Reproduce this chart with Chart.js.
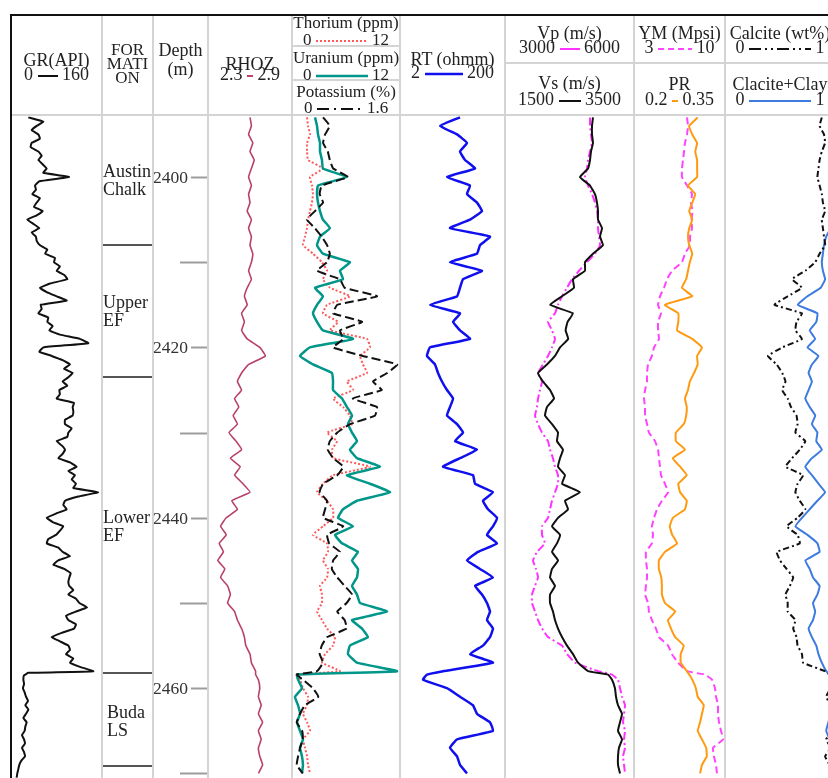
<!DOCTYPE html>
<html><head><meta charset="utf-8">
<script src="https://cdn.jsdelivr.net/npm/chart.js@4.4.1/dist/chart.umd.min.js"></script>
<style>
html,body{margin:0;padding:0;background:#fff;}
#wrap{position:relative;width:828px;height:778px;overflow:hidden;background:#fff;font-family:"Liberation Serif","Times New Roman",serif;color:#222;}
canvas.c{position:absolute;top:115px;}
.t{position:absolute;white-space:nowrap;text-align:center;font-size:18px;line-height:18px;}
.s{font-size:17px;line-height:17px;}
.vl{position:absolute;top:15px;height:763px;width:2px;background:#d4d4d4;}
.hl{position:absolute;height:2px;background:#d4d4d4;}
svg{vertical-align:middle;}
</style></head>
<body>
<div id="wrap">
<canvas class="c" id="cGR" width="91" height="663" style="left:11px"></canvas>
<canvas class="c" id="cFM" width="51" height="663" style="left:102px"></canvas>
<canvas class="c" id="cDP" width="55" height="663" style="left:153px"></canvas>
<canvas class="c" id="cRH" width="84" height="663" style="left:208px"></canvas>
<canvas class="c" id="cTU" width="108" height="663" style="left:292px"></canvas>
<canvas class="c" id="cRT" width="105" height="663" style="left:400px"></canvas>
<canvas class="c" id="cVV" width="129" height="663" style="left:505px"></canvas>
<canvas class="c" id="cYP" width="91" height="663" style="left:634px"></canvas>
<canvas class="c" id="cCA" width="110" height="663" style="left:725px"></canvas>

<!-- grid lines -->
<div class="vl" style="left:101px"></div>
<div class="vl" style="left:152px"></div>
<div class="vl" style="left:207px"></div>
<div class="vl" style="left:291px"></div>
<div class="vl" style="left:399px"></div>
<div class="vl" style="left:504px"></div>
<div class="vl" style="left:633px"></div>
<div class="vl" style="left:724px"></div>
<div class="hl" style="left:11px;width:817px;top:114px"></div>
<div class="hl" style="left:292px;width:108px;top:45px"></div>
<div class="hl" style="left:292px;width:108px;top:79px"></div>
<div class="hl" style="left:505px;width:323px;top:62px"></div>
<div style="position:absolute;left:10px;top:14px;width:818px;height:2px;background:#111"></div>
<div style="position:absolute;left:10px;top:14px;width:2px;height:764px;background:#111"></div>

<!-- header -->
<div class="t" style="left:11px;width:91px;top:51px">GR(API)</div>
<div class="t" style="left:11px;width:91px;top:65px">0 <svg width="20" height="4"><line x1="0" y1="2" x2="20" y2="2" stroke="#111" stroke-width="2"/></svg> 160</div>
<div class="t" style="left:102px;width:51px;top:43px;font-size:17px;line-height:14px">FOR<br>MATI<br>ON</div>
<div class="t" style="left:153px;width:55px;top:41px">Depth</div>
<div class="t" style="left:153px;width:55px;top:60px">(m)</div>
<div class="t" style="left:208px;width:84px;top:55px">RHOZ</div>
<div class="t" style="left:208px;width:84px;top:65px">2.3 <svg width="6" height="4"><line x1="0" y1="2" x2="6" y2="2" stroke="#c0406e" stroke-width="2"/></svg> 2.9</div>
<div class="t s" style="left:292px;width:108px;top:14px">Thorium (ppm)</div>
<div class="t s" style="left:292px;width:108px;top:31px">0 <svg width="52" height="4"><line x1="0" y1="2" x2="52" y2="2" stroke="#ff5a5a" stroke-width="2" stroke-dasharray="2,2"/></svg> 12</div>
<div class="t s" style="left:292px;width:108px;top:49px">Uranium (ppm)</div>
<div class="t s" style="left:292px;width:108px;top:66px">0 <svg width="52" height="4"><line x1="0" y1="2" x2="52" y2="2" stroke="#00968a" stroke-width="2.5"/></svg> 12</div>
<div class="t s" style="left:292px;width:108px;top:83px">Potassium (%)</div>
<div class="t s" style="left:292px;width:108px;top:99px">0 <svg width="46" height="4"><line x1="0" y1="2" x2="46" y2="2" stroke="#111" stroke-width="2" stroke-dasharray="12,5,2,5"/></svg> 1.6</div>
<div class="t" style="left:400px;width:105px;top:50px">RT (ohmm)</div>
<div class="t" style="left:400px;width:105px;top:63px">2 <svg width="38" height="4"><line x1="0" y1="2" x2="38" y2="2" stroke="#1010ee" stroke-width="2.5"/></svg> 200</div>
<div class="t" style="left:505px;width:129px;top:24px">Vp (m/s)</div>
<div class="t" style="left:505px;width:129px;top:38px">3000 <svg width="20" height="4"><line x1="0" y1="2" x2="20" y2="2" stroke="#ff33ff" stroke-width="2"/></svg> 6000</div>
<div class="t" style="left:505px;width:129px;top:74px">Vs (m/s)</div>
<div class="t" style="left:505px;width:129px;top:90px">1500 <svg width="22" height="4"><line x1="0" y1="2" x2="22" y2="2" stroke="#111" stroke-width="2"/></svg> 3500</div>
<div class="t" style="left:634px;width:91px;top:24px">YM (Mpsi)</div>
<div class="t" style="left:634px;width:91px;top:38px">3 <svg width="34" height="4"><line x1="0" y1="2" x2="34" y2="2" stroke="#ff44ff" stroke-width="2" stroke-dasharray="6,4"/></svg> 10</div>
<div class="t" style="left:634px;width:91px;top:75px">PR</div>
<div class="t" style="left:634px;width:91px;top:90px">0.2 <svg width="6" height="4"><line x1="0" y1="2" x2="6" y2="2" stroke="#ff9a10" stroke-width="2"/></svg> 0.35</div>
<div class="t" style="left:725px;width:110px;top:24px">Calcite (wt%)</div>
<div class="t" style="left:725px;width:110px;top:38px">0 <svg width="62" height="4"><line x1="0" y1="2" x2="62" y2="2" stroke="#111" stroke-width="2" stroke-dasharray="12,4,2,4,2,4"/></svg> 1</div>
<div class="t" style="left:725px;width:110px;top:75px">Clacite+Clay</div>
<div class="t" style="left:725px;width:110px;top:90px">0 <svg width="62" height="4"><line x1="0" y1="2" x2="62" y2="2" stroke="#3d7be0" stroke-width="2"/></svg> 1</div>
</div>

<script>
// ---------------- data ----------------
// Gamma ray, read at half-metre spacing
const GR_DEPTH = [2393,2393.5,2394,2394.5,2395,2395.5,2396,2396.5,2397,2397.5,
2398,2398.5,2399,2399.5,2400,2400.5,2401,2401.5,2402,2402.5,
2403,2403.5,2404,2404.5,2405,2405.5,2406,2406.5,2407,2407.5,
2408,2408.5,2409,2409.5,2410,2410.5,2411,2411.5,2412,2412.5,
2413,2413.5,2414,2414.5,2415,2415.5,2416,2416.5,2417,2417.5,
2418,2418.5,2419,2419.5,2420,2420.5,2421,2421.5,2422,2422.5,
2423,2423.5,2424,2424.5,2425,2425.5,2426,2426.5,2427,2427.5,
2428,2428.5,2429,2429.5,2430,2430.5,2431,2431.5,2432,2432.5,
2433,2433.5,2434,2434.5,2435,2435.5,2436,2436.5,2437,2437.5,
2438,2438.5,2439,2439.5,2440,2440.5,2441,2441.5,2442,2442.5,
2443,2443.5,2444,2444.5,2445,2445.5,2446,2446.5,2447,2447.5,
2448,2448.5,2449,2449.5,2450,2450.5,2451,2451.5,2452,2452.5,
2453,2453.5,2454,2454.5,2455,2455.5,2456,2456.5,2457,2457.5,
2458,2458.2,2458.5,2459,2459.5,2460,2460.5,2461,2461.5,2462,
2462.5,2463,2463.5,2464,2464.5,2465,2465.5,2466,2466.5,2467,
2467.5,2468,2468.5,2469,2469.5,2470,2470.5];
const GR = [30.5,56.8,45.1,36.3,48.1,51,36.3,34.5,48.1,54,
48.1,55.7,62.7,56.8,102,49.8,42.2,43.9,37.5,51,
45.1,40.4,55.7,45.1,28.7,39.3,49.8,36.3,43.9,45.1,
51,63.9,59.8,77.4,75.6,86.1,80.3,93.7,99,68.6,
51,62.7,80.3,97.9,52.2,54,48.1,65.6,63.9,73.3,
67.4,86.1,121,135.9,56.8,49.8,71.5,90.8,103.7,93.2,
108.4,100.8,90.8,99,85,86,80.3,110.8,108.4,109.6,
108.4,94.9,94.9,106.7,100.8,99,80.3,89.1,94.9,90.8,
83.2,103.7,115.4,100.8,112.5,106.7,114.3,109.6,153,118.3,
94.9,92,97.9,79.1,62.7,73.3,92,86.1,79.1,65.6,
62.7,83.2,90.8,103.7,83.2,74.4,93.7,104.9,102.6,100.8,
102.6,109.6,100.8,114.3,120.2,133.7,114.3,96.7,100.8,114.3,
110.8,89.1,71.5,86.1,100.8,103.7,96.7,109.6,103.7,121.3,
144.7,30.5,22.9,21.7,23,21,24,26.4,29.9,25.2,
30.5,26.4,21.7,27.5,25.2,24,19.3,22.9,24.6,19.3,
22.9,24.6,18.2,14.6,12.9,11.1,9.9];

// All other logs, read at one-metre spacing
const DEPTH = [2393,2394,2395,2396,2397,2398,2399,2400,2401,2402,
2403,2404,2405,2406,2407,2408,2409,2410,2411,2412,
2413,2414,2415,2416,2417,2418,2419,2420,2421,2422,
2423,2424,2425,2426,2427,2428,2429,2430,2431,2432,
2433,2434,2435,2436,2437,2438,2439,2440,2441,2442,
2443,2444,2445,2446,2447,2448,2449,2450,2451,2452,
2453,2454,2455,2456,2457,2458,2458.4,2459,2460,2461,
2462,2463,2464,2465,2466,2467,2468,2469,2470];

const RHOZ = [2.60,2.61,2.59,2.62,2.60,2.63,2.61,2.59,2.61,2.59,
2.60,2.58,2.61,2.59,2.61,2.60,2.62,2.61,2.59,2.61,
2.58,2.56,2.58,2.54,2.56,2.54,2.58,2.67,2.71,2.59,
2.54,2.51,2.54,2.49,2.52,2.48,2.51,2.45,2.50,2.54,
2.46,2.53,2.49,2.55,2.60,2.47,2.51,2.43,2.39,2.43,
2.38,2.41,2.37,2.42,2.39,2.44,2.46,2.44,2.49,2.51,
2.54,2.56,2.57,2.60,2.61,2.64,2.64,2.66,2.67,2.66,
2.68,2.66,2.69,2.66,2.68,2.66,2.67,2.69,2.66];

const THORIUM = [1.67,1.78,2.0,1.67,1.67,1.78,3.44,2.0,2.22,2.33,
2.22,2.0,1.78,1.67,1.44,1.22,2.33,3.33,3.89,3.44,
4.22,6.44,3.89,3.44,5.11,4.22,8.33,8.67,7.56,7.89,
8.33,6.11,6.78,4.56,5.67,6.44,6.67,3.89,5.0,4.44,
4.56,8.67,4.56,3.44,2.78,3.89,4.56,4.56,3.44,2.33,
3.89,4.0,3.44,4.0,3.89,3.11,3.33,3.33,2.78,3.33,
3.89,4.78,4.56,3.67,3.33,5.33,0.56,0.89,1.22,1.78,
1.67,1.22,1.67,2.0,1.22,1.44,1.67,1.78,2.0];

const URANIUM = [2.56,2.78,2.89,3.11,3.11,3.33,3.44,6.11,2.89,2.78,
2.89,3.11,3.44,4.22,3.11,2.78,3.44,6.44,5.33,5.67,
2.56,3.44,2.78,2.33,2.78,3.44,6.78,2.0,0.89,2.33,
4.44,4.56,4.56,5.56,6.11,6.67,6.22,6.67,7.22,6.44,
7.22,9.78,6.11,8.67,10.89,7.22,5.67,5.11,6.78,4.78,
5.56,7.33,6.67,7.33,7.22,6.67,7.22,7.56,10.56,6.67,
7.78,8.44,6.44,6.22,7.22,11.67,0.56,0.67,1.11,0.33,
0.67,0.89,0.56,0.89,1.22,0.89,1.11,1.22,1.11];

const POTASSIUM = [0.46,0.56,0.49,0.46,0.53,0.56,0.61,0.83,0.44,0.41,
0.46,0.34,0.22,0.34,0.44,0.52,0.56,0.52,0.37,0.71,
0.78,1.26,0.67,0.61,1.04,0.71,0.76,0.61,1.05,1.56,
1.41,1.20,1.33,0.90,1.26,1.23,0.86,0.67,0.56,0.53,
0.61,0.76,0.67,0.46,0.41,0.52,0.49,0.46,0.76,0.52,
0.55,0.71,0.61,0.59,0.67,0.78,0.89,0.81,0.67,0.78,
0.81,0.52,0.44,0.41,0.46,0.37,0.07,0.16,0.31,0.39,
0.19,0.12,0.07,0.15,0.16,0.12,0.09,0.07,0.16];

const RT = [27.8,11.6,24.4,37.8,27.8,34.6,53.7,15.7,43.1,37.8,
58.6,72.9,43.1,17.9,103.6,66.8,58.6,17.9,72.9,31.7,
27.8,24.4,7.45,27.8,20.5,27.8,43.1,7.45,6.53,9.28,
10.6,12.6,15.7,20.5,17.9,15.7,24.4,31.7,22.3,58.6,
27.8,13.2,49.1,53.7,118,76.2,94.9,141,118,90.8,
141,61.2,37.8,66.8,118,53.7,72.9,90.8,103.6,90.8,
118,103.6,76.2,43.1,118,13.2,6.53,5.48,15.7,27.8,
49.1,58.6,103.6,118,24.4,17.9,24.4,27.8,37.8];

const VP = [4977,4977,5000,5024,4977,4931,4907,4861,4931,5024,
5093,5140,5163,5163,5186,5210,5093,4907,4721,4558,
4442,4326,4233,4163,4000,4093,4163,4093,4000,3884,
3768,3861,3814,3768,3744,3698,3768,3861,4000,4047,
4116,4163,4233,4233,4163,4093,4047,4000,3861,3861,
3930,3744,3651,3721,3768,3698,3628,3628,3698,3768,
3861,4000,4326,4442,4628,5163,5489,5628,5675,5721,
5791,5768,5745,5791,5768,5791,5745,5768,5791];

const VS = [2864,2849,2849,2864,2833,2818,2787,2663,2818,2895,
2926,2942,2942,3004,2973,3019,2864,2740,2740,2554,
2570,2384,2198,2554,2470,2440,2480,2353,2275,2151,
2012,2089,2198,2260,2151,2120,2229,2322,2306,2399,
2353,2322,2430,2384,2663,2430,2477,2322,2229,2353,
2306,2229,2322,2229,2198,2275,2198,2198,2244,2275,
2322,2384,2461,2554,2632,2787,3097,3159,3205,3221,
3252,3314,3283,3252,3314,3267,3252,3252,3283];

const YM = [7.08,7.15,7.08,6.92,6.85,6.77,6.69,6.69,7.08,7.46,
7.38,7.50,7.42,7.46,7.31,7.31,6.92,6.69,5.92,5.54,
5.31,5.0,4.85,5.08,4.85,4.85,4.92,4.54,4.38,4.08,
4.0,4.0,3.85,3.77,3.85,3.85,4.0,4.15,4.62,4.85,
4.92,5.0,5.08,5.38,5.62,5.15,4.77,4.54,4.38,4.46,
4.38,3.92,3.92,4.0,4.0,3.92,3.85,4.08,4.15,4.38,
4.69,4.92,5.62,5.92,6.38,7.08,8.46,9.0,9.23,9.31,
9.46,9.46,9.54,9.69,9.85,9.08,9.15,9.31,9.38];

const PR = [0.305,0.291,0.296,0.304,0.301,0.304,0.304,0.304,0.289,0.301,
0.296,0.291,0.296,0.291,0.289,0.291,0.296,0.292,0.289,0.286,
0.279,0.296,0.251,0.273,0.273,0.271,0.296,0.312,0.304,0.305,
0.299,0.292,0.289,0.284,0.287,0.286,0.282,0.269,0.269,0.284,
0.264,0.276,0.287,0.273,0.276,0.287,0.284,0.264,0.259,0.263,
0.271,0.251,0.241,0.241,0.245,0.246,0.246,0.251,0.268,0.256,
0.261,0.268,0.282,0.277,0.277,0.287,0.291,0.296,0.302,0.305,
0.315,0.312,0.309,0.305,0.312,0.319,0.320,0.312,0.309];

const CALCITE = [0.88,0.86,0.90,0.91,0.88,0.86,0.85,0.84,0.86,0.88,
0.89,0.91,0.88,0.89,0.90,0.91,0.86,0.82,0.73,0.61,
0.70,0.57,0.45,0.70,0.65,0.64,0.70,0.52,0.39,0.47,
0.52,0.55,0.52,0.57,0.60,0.65,0.66,0.64,0.73,0.68,
0.61,0.55,0.71,0.66,0.64,0.68,0.73,0.66,0.56,0.66,
0.68,0.47,0.50,0.56,0.62,0.59,0.55,0.57,0.57,0.64,
0.62,0.65,0.66,0.70,0.71,0.91,0.95,0.97,0.96,0.92,
0.96,0.97,0.95,0.97,0.92,0.96,0.91,0.95,0.96];

const CALCITE_CLAY = [0.97,0.98,0.96,0.97,0.99,0.97,0.96,0.98,0.97,0.96,
0.98,0.97,0.95,0.96,0.92,0.90,0.89,0.88,0.89,0.91,
0.87,0.75,0.66,0.84,0.83,0.77,0.82,0.75,0.85,0.79,
0.76,0.79,0.76,0.73,0.77,0.82,0.79,0.84,0.83,0.88,
0.79,0.73,0.79,0.85,0.91,0.84,0.77,0.70,0.64,0.75,
0.84,0.86,0.73,0.77,0.80,0.86,0.84,0.80,0.82,0.80,
0.76,0.79,0.83,0.85,0.88,0.92,0.95,0.97,0.96,0.95,
0.97,0.96,0.94,0.92,0.95,0.97,0.96,0.95,0.97];

const FORMATION_NAMES = [["Austin","Chalk"],["Upper","EF"],["Lower","EF"],["Buda","LS"]];
const FORMATION_LABEL_DEPTH = [2400.0, 2415.4, 2440.6, 2463.5];
const FORMATION_BASES = [2408.0, 2423.5, 2458.2, 2469.1];

const DEPTH_TICKS = [2400,2410,2420,2430,2440,2450,2460,2470];
const DEPTH_TICK_LABELS = ["2400","","2420","","2440","","2460",""];

const DEPTH_MIN = 2392.72, DEPTH_MAX = 2470.54;

// ---------------- helpers ----------------
const FONT = '"Liberation Serif","Times New Roman",serif';
function pts(vals, depths){ depths = depths || DEPTH; return depths.map((d,i)=>({x: vals[i], y: d})); }
function ds(vals, axis, color, width, dash, depths){
  return {data: pts(vals, depths), xAxisID: axis, yAxisID: 'y', borderColor: color, borderWidth: width,
          borderDash: dash || [], showLine: true, pointRadius: 0, fill: false, tension: 0.1};
}
function makeChart(id, datasets, xScales, plugins){
  const scales = {y: {type: 'linear', min: DEPTH_MIN, max: DEPTH_MAX, reverse: true, display: false}};
  Object.keys(xScales).forEach(k => { scales[k] = Object.assign({axis: 'x', display: false}, xScales[k]); });
  return new Chart(document.getElementById(id), {
    type: 'scatter',
    data: {datasets: datasets},
    options: {
      responsive: false, maintainAspectRatio: false, animation: false, devicePixelRatio: 1,
      layout: {padding: 0},
      plugins: {legend: {display: false}, tooltip: {enabled: false}},
      events: [],
      scales: scales
    },
    plugins: plugins || []
  });
}

// ---------------- tracks ----------------
makeChart('cGR', [ds(GR, 'x', '#111', 2, [], GR_DEPTH)], {x: {type: 'linear', min: 0, max: 160}});

makeChart('cRH', [ds(RHOZ, 'x', '#b8406e', 1.6)], {x: {type: 'linear', min: 2.3, max: 2.9}});

makeChart('cTU', [
  ds(POTASSIUM, 'xK', '#111', 2, [9, 4]),
  ds(URANIUM, 'xU', '#00968a', 2.5),
  ds(THORIUM, 'xTh', '#ff5a5a', 2, [2, 2])
], {
  xTh: {type: 'linear', min: 0, max: 12},
  xU: {type: 'linear', min: 0, max: 12},
  xK: {type: 'linear', min: 0, max: 1.6}
});

makeChart('cRT', [ds(RT, 'x', '#1010ee', 2.5)], {x: {type: 'logarithmic', min: 2, max: 200}});

makeChart('cVV', [
  ds(VS, 'xVs', '#111', 2),
  ds(VP, 'xVp', '#ff33ff', 2, [8, 3, 2, 3])
], {
  xVp: {type: 'linear', min: 3000, max: 6000},
  xVs: {type: 'linear', min: 1500, max: 3500}
});

makeChart('cYP', [
  ds(PR, 'xPR', '#ff9a10', 2),
  ds(YM, 'xYM', '#ff44ff', 2, [7, 4])
], {
  xYM: {type: 'linear', min: 3, max: 10},
  xPR: {type: 'linear', min: 0.2, max: 0.35}
});

makeChart('cCA', [
  ds(CALCITE, 'xC', '#111', 2, [6, 3, 2, 3]),
  ds(CALCITE_CLAY, 'xCC', '#3d7be0', 2)
], {
  xC: {type: 'linear', min: 0, max: 1},
  xCC: {type: 'linear', min: 0, max: 1}
});

// depth column
makeChart('cDP', [], {x: {type: 'linear', min: 0, max: 1}}, [{
  id: 'depthAxis',
  afterDraw(chart){
    const c = chart.ctx, ys = chart.scales.y, w = chart.width;
    c.save();
    c.strokeStyle = '#9c9c9c'; c.lineWidth = 2;
    c.fillStyle = '#333'; c.font = '17.5px ' + FONT;
    c.textAlign = 'right'; c.textBaseline = 'middle';
    DEPTH_TICKS.forEach((d, i) => {
      const y = Math.round(ys.getPixelForValue(d)) + 0.5;
      const lab = DEPTH_TICK_LABELS[i];
      const len = lab ? 17 : 28;
      c.beginPath(); c.moveTo(w - len, y); c.lineTo(w, y); c.stroke();
      if (lab) c.fillText(lab, w - 20, y + 1);
    });
    c.restore();
  }
}]);

// formation column
makeChart('cFM', [], {x: {type: 'linear', min: 0, max: 1}}, [{
  id: 'formations',
  afterDraw(chart){
    const c = chart.ctx, ys = chart.scales.y, w = chart.width;
    c.save();
    c.strokeStyle = '#555'; c.lineWidth = 2;
    FORMATION_BASES.forEach(d => {
      const y = Math.round(ys.getPixelForValue(d));
      c.beginPath(); c.moveTo(0, y); c.lineTo(w, y); c.stroke();
    });
    c.fillStyle = '#222'; c.font = '18px ' + FONT;
    c.textAlign = 'left'; c.textBaseline = 'alphabetic';
    FORMATION_NAMES.forEach((lines, i) => {
      const y = ys.getPixelForValue(FORMATION_LABEL_DEPTH[i]);
      const x = (i === 3) ? 5 : 1;
      lines.forEach((t, j) => c.fillText(t, x, y + j * 18));
    });
    c.restore();
  }
}]);
</script>
</body></html>
